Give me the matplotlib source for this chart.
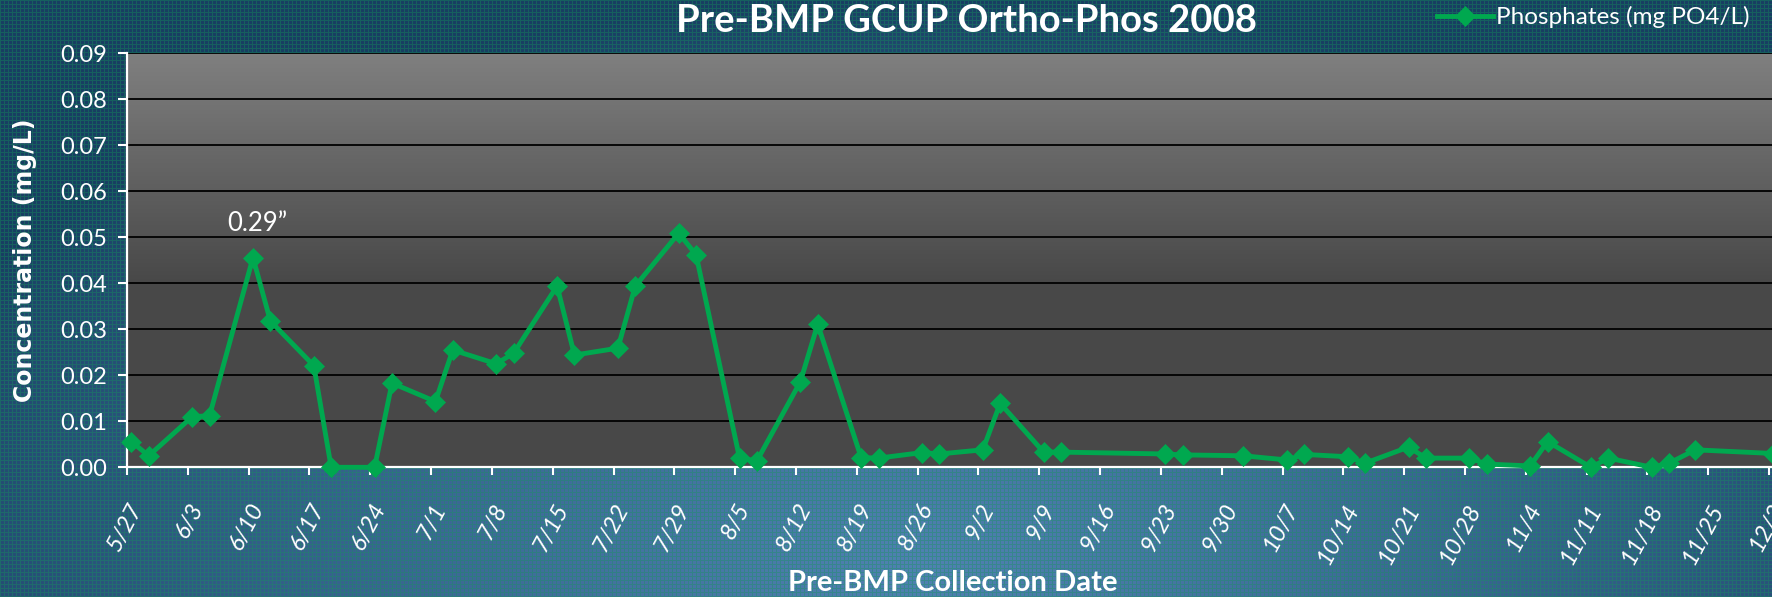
import numpy as np
import matplotlib
matplotlib.use('Agg')
import matplotlib.pyplot as plt
from matplotlib.transforms import ScaledTranslation

# ---------------- data ----------------
sample_dates = ['5/27', '5/29', '6/3', '6/5', '6/10', '6/12', '6/17', '6/19', '6/24', '6/26',
                '7/1', '7/3', '7/8', '7/10', '7/15', '7/17', '7/22', '7/24', '7/29', '7/31',
                '8/5', '8/7', '8/12', '8/14', '8/19', '8/21', '8/26', '8/28', '9/2', '9/4',
                '9/9', '9/11', '9/23', '9/25', '10/2', '10/7', '10/9', '10/14', '10/16', '10/21',
                '10/23', '10/28', '10/30', '11/4', '11/6', '11/11', '11/13', '11/18', '11/20',
                '11/23', '12/2']
phosphates = [0.0056, 0.0025, 0.0110, 0.0112, 0.0456, 0.0318, 0.0221, 0.0000, 0.0000, 0.0183,
              0.0143, 0.0255, 0.0225, 0.0248, 0.0394, 0.0244, 0.0259, 0.0394, 0.0509, 0.0462,
              0.0020, 0.0014, 0.0186, 0.0311, 0.0021, 0.0020, 0.0032, 0.0029, 0.0038, 0.0139,
              0.0033, 0.0033, 0.0029, 0.0027, 0.0025, 0.0016, 0.0028, 0.0023, 0.0009, 0.0044,
              0.0020, 0.0020, 0.0007, 0.0003, 0.0056, 0.0000, 0.0020, 0.0000, 0.0009, 0.0038,
              0.0030]
tick_dates = ['5/27', '6/3', '6/10', '6/17', '6/24', '7/1', '7/8', '7/15', '7/22', '7/29',
              '8/5', '8/12', '8/19', '8/26', '9/2', '9/9', '9/16', '9/23', '9/30', '10/7',
              '10/14', '10/21', '10/28', '11/4', '11/11', '11/18', '11/25', '12/2']
y_ticks = [0.00, 0.01, 0.02, 0.03, 0.04, 0.05, 0.06, 0.07, 0.08, 0.09]
year = 2008
series_name = 'Phosphates (mg PO4/L)'
title = 'Pre-BMP GCUP Ortho-Phos 2008'
x_label = 'Pre-BMP Collection Date'
y_label = 'Concentration (mg/L)'
note_text = '0.29\u201d'
note_date = '6/11'
note_value = 0.0529


def to_dt(md):
    m, d = md.split('/')
    return np.datetime64(f'{year}-{int(m):02d}-{int(d):02d}')


x_pts = np.array([to_dt(s) for s in sample_dates]) + np.timedelta64(12, 'h')
x_ticks = np.array([to_dt(s) for s in tick_dates])

# ---------------- figure ----------------
plt.rcParams['font.family'] = ['Lato', 'DejaVu Sans']
W, H = 1772, 597
fig = plt.figure(figsize=(W / 100, H / 100), dpi=100)

# textured blue background
bg_ax = fig.add_axes([0, 0, 1, 1], zorder=-10)
yy, xx = np.mgrid[0:H, 0:W]
u = xx / W
v = yy / H
d = np.sqrt(((u - 0.52) / 0.62) ** 2 + ((v - 0.95) / 0.95) ** 2)
t = np.clip(1 - d, 0, 1) ** 0.8
dark = np.array([24, 62, 98]) / 255
light = np.array([80, 130, 178]) / 255
bg = dark + (light - dark) * t[..., None]
grid = (xx % 4 == 0) | (yy % 4 == 0)
green = np.array([20, 150, 90]) / 255
bg[grid] = bg[grid] * 0.62 + green * 0.38
bg_ax.imshow(bg, aspect='auto', interpolation='nearest')
bg_ax.axis('off')

left, right = 127 / W, 1.0
bottom, top = 1 - 467.3 / H, 1 - 53.3 / H
ax = fig.add_axes([left, bottom, right - left, top - bottom])
ax.set_facecolor('none')

# plot-area gray gradient
gy = np.linspace(0, 1, 300)
g = np.where(gy < 0.55, 0.50 - (0.50 - 0.285) * gy / 0.55, 0.285)
ax.imshow(g[:, None, None] * np.ones((1, 1, 3)), extent=[0, 1, 0, 1],
          transform=ax.transAxes, aspect='auto', zorder=0, interpolation='bilinear')

line_color = '#00A84F'
ax.plot(x_pts, phosphates, color=line_color, lw=3.5, marker='D', ms=10,
        mec=line_color, mew=0.5, label=series_name, zorder=5, clip_on=False)

ax.set_ylim(0, 0.09)
ax.set_xlim(x_ticks[0], x_ticks[0] + np.timedelta64(int(189.34 * 24), 'h'))
ax.set_yticks(y_ticks)
ax.set_yticklabels([f'{t:.2f}' for t in y_ticks])
ax.set_xticks(x_ticks)
ax.set_xticklabels(tick_dates)

ax.yaxis.grid(True, color='black', lw=1.3, zorder=1)
ax.set_axisbelow(False)
for gl in ax.get_ygridlines():
    gl.set_zorder(1)

for s in ['top', 'right']:
    ax.spines[s].set_visible(False)
for s in ['left', 'bottom']:
    ax.spines[s].set_color('white')
    ax.spines[s].set_linewidth(1.6)
    ax.spines[s].set_zorder(4)

ax.tick_params(axis='y', colors='white', direction='out', length=6.5, width=1.5,
               labelsize=17, pad=8)
ax.tick_params(axis='x', colors='white', direction='out', length=6, width=1.5,
               labelsize=17, pad=21)
off = ScaledTranslation(0.10, 0, fig.dpi_scale_trans)
for lab in ax.get_xticklabels():
    lab.set_rotation(62)
    lab.set_rotation_mode('anchor')
    lab.set_ha('right')
    lab.set_va('center')
    lab.set_style('italic')
    lab.set_transform(lab.get_transform() + off)

ax.set_ylabel(y_label, color='white', fontsize=17, fontweight='bold', va='center',
              family=['DejaVu Sans'])
ax.yaxis.set_label_coords(-0.062, 0.5)
ax.set_xlabel(x_label, color='white', fontsize=21, fontweight='bold', va='center')
ax.xaxis.set_label_coords(0.502, -0.2790)

ax.text(to_dt(note_date), note_value, note_text, color='white',
        fontsize=18.5, ha='center', va='center', zorder=6)

fig.text(966 / W, 1 - 21 / H, title, color='white', fontsize=27.5, fontweight='bold',
         ha='center', va='center')

leg = fig.legend(loc='center left', bbox_to_anchor=(1437 / W, 1 - 17 / H), frameon=False,
                 fontsize=17.5, handlelength=2.3, handletextpad=0.12, borderpad=0,
                 borderaxespad=0)
for txt in leg.get_texts():
    txt.set_color('white')

fig.savefig('out.png', dpi=100)
